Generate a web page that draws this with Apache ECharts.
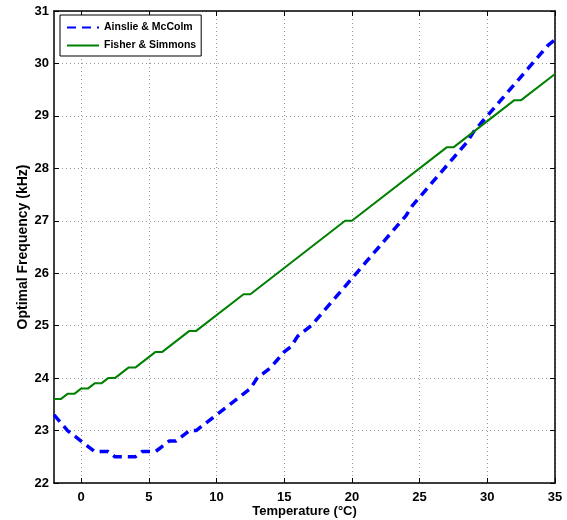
<!DOCTYPE html>
<html>
<head>
<meta charset="utf-8">
<script src="https://cdn.jsdelivr.net/npm/echarts@6/dist/echarts.min.js"></script>
<style>html,body{margin:0;padding:0;background:#fff}#c{width:567px;height:520px}</style>
</head>
<body>
<div id="c"></div>
<script>
// Ainslie & McColm (blue dashed) — temperature (°C) and frequency (kHz)
var amTemp = [-2,-1.5,-1,-0.5,0,0.5,1,1.5,2,2.5,3,3.5,4,4.5,5,5.5,6,6.5,7,7.5,8,8.5,9,9.5,10,10.5,11,11.5,12,12.5,13,13.5,14,14.5,15,15.5,16,16.5,17,17.5,18,18.5,19,19.5,20,20.5,21,21.5,22,22.5,23,23.5,24,24.5,25,25.5,26,26.5,27,27.5,28,28.5,29,29.5,30,30.5,31,31.5,32,32.5,33,33.5,34,34.5,35];
var amFreq = [23.3,23.15,23.0,22.9,22.8,22.7,22.6,22.6,22.6,22.5,22.5,22.5,22.5,22.6,22.6,22.6,22.7,22.8,22.8,22.9,23.0,23.0,23.1,23.2,23.3,23.4,23.5,23.6,23.7,23.8,24.0,24.1,24.2,24.35,24.5,24.6,24.8,24.9,25.0,25.15,25.3,25.45,25.6,25.75,25.9,26.05,26.2,26.35,26.5,26.65,26.8,26.95,27.1,27.3,27.45,27.6,27.75,27.9,28.05,28.2,28.35,28.5,28.7,28.85,29.0,29.15,29.3,29.45,29.6,29.75,29.9,30.05,30.2,30.35,30.45];
// Fisher & Simmons (green solid)
var fsTemp = [-2,-1.5,-1,-0.5,0,0.5,1,1.5,2,2.5,3.5,4,5.5,6,8,8.5,12,12.5,19.5,20,27,27.5,32,32.5,35];
var fsFreq = [23.6,23.6,23.7,23.7,23.8,23.8,23.9,23.9,24.0,24.0,24.2,24.2,24.5,24.5,24.9,24.9,25.6,25.6,27.0,27.0,28.4,28.4,29.3,29.3,29.8];
var xTicks = [0,5,10,15,20,25,30,35];
var seriesNames = ['Ainslie & McColm', 'Fisher & Simmons'];
var xName = 'Temperature (°C)';
var yName = 'Optimal Frequency (kHz)';

function pairs(xs, ys){ return xs.map(function(x,i){ return [x, ys[i]]; }); }

var chart = echarts.init(document.getElementById('c'), null, {renderer:'canvas'});
var font = '"Liberation Sans", Arial, Helvetica, sans-serif';
var xBase = {
  type:'value', min:-2, max:35,
  axisLine:{show:true, onZero:false, lineStyle:{color:'#000', width:1.5}},
  axisTick:{show:true, inside:true, length:5, customValues:xTicks, lineStyle:{color:'#000', width:1}},
  axisLabel:{show:true, customValues:xTicks, color:'#000', fontFamily:font, fontWeight:'bold', fontSize:13, margin:8},
  splitLine:{show:true, lineStyle:{color:'#9a9a9a', type:[1,3], width:1}}
};
chart.setOption({
  animation:false,
  backgroundColor:'#fff',
  grid:{left:54, right:12, top:11, bottom:37, containLabel:false, outerBoundsMode:'none'},
  legend:{
    left:60, top:15, orient:'vertical',
    data:seriesNames,
    backgroundColor:'#fff', borderColor:'#000', borderWidth:1,
    padding:[7,5,5,6], itemWidth:32, itemHeight:12, itemGap:7,
    itemStyle:{opacity:0},
    textStyle:{color:'#000', fontFamily:font, fontWeight:'bold', fontSize:10.5}
  },
  xAxis:[
    Object.assign({}, xBase, {position:'bottom', name:xName, nameLocation:'middle', nameGap:22, nameMoveOverlap:false,
      nameTextStyle:{color:'#000', fontFamily:font, fontWeight:'bold', fontSize:13}}),
    Object.assign({}, xBase, {position:'top', axisLabel:{show:false, customValues:xTicks}, splitLine:{show:false}})
  ],
  yAxis:[
    {type:'value', min:22, max:31, interval:1, position:'left',
     name:yName, nameLocation:'middle', nameGap:24, nameMoveOverlap:false,
     nameTextStyle:{color:'#000', fontFamily:font, fontWeight:'bold', fontSize:14},
     axisLine:{show:true, onZero:false, lineStyle:{color:'#000', width:1.5}},
     axisTick:{show:true, inside:true, length:5, lineStyle:{color:'#000'}},
     axisLabel:{color:'#000', fontFamily:font, fontWeight:'bold', fontSize:13, margin:5},
     splitLine:{show:true, lineStyle:{color:'#9a9a9a', type:[1,3], width:1}}},
    {type:'value', min:22, max:31, interval:1, position:'right',
     axisLine:{show:true, onZero:false, lineStyle:{color:'#000', width:1.5}},
     axisTick:{show:true, inside:true, length:5, lineStyle:{color:'#000'}},
     axisLabel:{show:false}, splitLine:{show:false}}
  ],
  series:[
    {name:seriesNames[0], type:'line', data:pairs(amTemp, amFreq), symbol:'none', smooth:false,
     itemStyle:{color:'#0000ff'},
     lineStyle:{color:'#0000ff', width:3.5, type:[9,6]}},
    {name:seriesNames[1], type:'line', data:pairs(fsTemp, fsFreq), symbol:'none', smooth:false,
     itemStyle:{color:'#008000'},
     lineStyle:{color:'#008000', width:2}}
  ]
});
</script>
</body>
</html>
